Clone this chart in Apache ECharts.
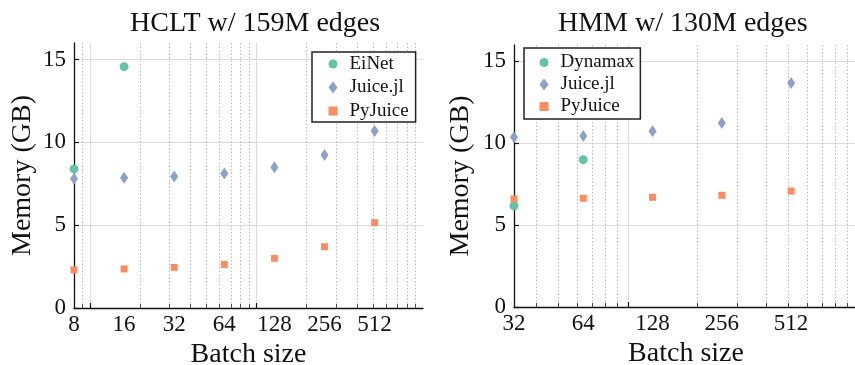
<!DOCTYPE html>
<html>
<head>
<meta charset="utf-8">
<script src="https://cdn.jsdelivr.net/npm/echarts@6/dist/echarts.min.js"></script>
<style>
html, body { margin: 0; padding: 0; background: #fff; }
#chartDom { width: 855px; height: 365px; }
</style>
</head>
<body>
<div id="chartDom"></div>
<script>
// HCLT w/ 159M edges
const hcltBatch = [8, 16, 32, 64, 128, 256, 512]
const hcltEinetBatch = [8, 16]
const hcltEinet = [8.4, 14.57]
const hcltJuicejl = [7.8, 7.86, 7.94, 8.12, 8.5, 9.24, 10.69]
const hcltPyjuice = [2.3, 2.36, 2.45, 2.63, 3.0, 3.7, 5.15]

// HMM w/ 130M edges
const hmmBatch = [32, 64, 128, 256, 512]
const hmmDynamaxBatch = [32, 64]
const hmmDynamax = [6.18, 9.0]
const hmmJuicejl = [10.37, 10.45, 10.74, 11.23, 13.68]
const hmmPyjuice = [6.6, 6.64, 6.7, 6.82, 7.08]

// tick labels / grid positions
const hcltTicks = [8, 16, 32, 64, 128, 256, 512]
const hmmTicks = [32, 64, 128, 256, 512]
const yTicks = [0, 5, 10, 15]
const majorGrid = [10, 100]
const hcltMinor = [9, 20, 30, 40, 50, 60, 70, 80, 90, 200, 300, 400, 500, 600, 700, 800, 900]
const hmmMinor = [40, 50, 60, 70, 80, 90, 200, 300, 400, 500, 600, 700, 800, 900]

const GREEN = '#66c2a5'
const BLUE = '#8da0cb'
const ORANGE = '#fc8d62'
const FONT = '"Liberation Serif", "DejaVu Serif", serif'
const SQUARE = 'path://M0,0L1,0L1,1L0,1Z'

const zip = (xs, ys) => ys.map((v, i) => [xs[i], v])

const chart = echarts.init(document.getElementById('chartDom'))

function mainX (gridIndex, min, labels) {
  return {
    type: 'log',
    logBase: 2,
    gridIndex: gridIndex,
    position: 'bottom',
    min: min,
    max: 1000,
    name: 'Batch size',
    nameLocation: 'middle',
    nameGap: 30,
    nameTextStyle: { fontFamily: FONT, fontSize: 28, color: '#111' },
    axisLine: { show: true, lineStyle: { color: '#111', width: 1.3 } },
    axisTick: { show: true, inside: true, length: 5, customValues: majorGrid, lineStyle: { color: '#111', width: 1.2 } },
    axisLabel: { customValues: labels, margin: 5, fontFamily: FONT, fontSize: 23, color: '#111' },
    splitLine: { show: true, lineStyle: { color: '#dcdcdc', width: 1.2 } }
  }
}

function minorX (gridIndex, min, values) {
  return {
    type: 'log',
    logBase: 10,
    gridIndex: gridIndex,
    position: 'bottom',
    min: min,
    max: 1000,
    axisLine: { show: false },
    axisLabel: { show: false },
    axisTick: { show: true, inside: true, length: 4, customValues: values, lineStyle: { color: '#444', width: 1 } },
    splitLine: { show: true, lineStyle: { color: '#bbb', width: 1, type: [1.5, 2] } }
  }
}

function yAx (gridIndex, gap) {
  return {
    type: 'value',
    gridIndex: gridIndex,
    min: 0,
    max: 16,
    name: 'Memory (GB)',
    nameLocation: 'middle',
    nameGap: gap,
    nameTextStyle: { fontFamily: FONT, fontSize: 28, color: '#111' },
    axisLine: { show: true, lineStyle: { color: '#111', width: 1.3 } },
    axisTick: { show: true, inside: true, length: 5, customValues: yTicks, lineStyle: { color: '#111', width: 1.2 } },
    axisLabel: { customValues: yTicks, margin: 8, fontFamily: FONT, fontSize: 23, color: '#111' },
    splitLine: { show: true, lineStyle: { color: '#dcdcdc', width: 1.2 } }
  }
}

function scatter (name, xIdx, yIdx, data, color, symbol, size) {
  return {
    name: name,
    type: 'scatter',
    xAxisIndex: xIdx,
    yAxisIndex: yIdx,
    data: data,
    symbol: symbol,
    symbolSize: size,
    clip: false,
    itemStyle: { color: color, opacity: 1 },
    emphasis: { disabled: true },
    z: 3
  }
}

function legend (names, left, top, padding, gap) {
  return {
    data: [
      { name: names[0], icon: 'circle' },
      { name: names[1], icon: 'diamond' },
      { name: names[2], icon: SQUARE }
    ],
    orient: 'vertical',
    left: left,
    top: top,
    padding: padding,
    itemGap: gap,
    itemWidth: 9,
    itemHeight: 12,
    backgroundColor: '#fff',
    borderColor: '#222',
    borderWidth: 1.5,
    borderRadius: 0,
    textStyle: { fontFamily: FONT, fontSize: 19, color: '#111', lineHeight: 20, padding: [0, 0, 0, 7] },
    z: 10
  }
}

const option = {
  animation: false,
  backgroundColor: '#fff',
  title: [
    { text: 'HCLT w/ 159M edges', left: 125, top: 5, textStyle: { fontFamily: FONT, fontSize: 28, fontWeight: 'normal', color: '#111' } },
    { text: 'HMM w/ 130M edges', left: 553, top: 5, textStyle: { fontFamily: FONT, fontSize: 28, fontWeight: 'normal', color: '#111' } }
  ],
  legend: [
    legend(['EiNet', 'Juice.jl', 'PyJuice'], 312, 52, [2, 7, 1, 16.5], 3.5),
    legend(['Dynamax', 'Juice.jl', 'PyJuice'], 524, 48, [4.5, 6, 2.5, 15.5], 2)
  ],
  grid: [
    { left: 74, top: 43, width: 349, height: 265, outerBoundsMode: 'none' },
    { left: 514, top: 45, width: 344, height: 262, outerBoundsMode: 'none' }
  ],
  xAxis: [
    mainX(0, 8, hcltTicks),
    minorX(0, 8, hcltMinor),
    mainX(1, 32, hmmTicks),
    minorX(1, 32, hmmMinor)
  ],
  yAxis: [yAx(0, 37), yAx(1, 39)],
  series: [
    scatter('EiNet', 0, 0, zip(hcltEinetBatch, hcltEinet), GREEN, 'circle', 9),
    scatter('Juice.jl', 0, 0, zip(hcltBatch, hcltJuicejl), BLUE, 'diamond', [8, 12]),
    scatter('PyJuice', 0, 0, zip(hcltBatch, hcltPyjuice), ORANGE, 'rect', 7),
    scatter('Dynamax', 2, 1, zip(hmmDynamaxBatch, hmmDynamax), GREEN, 'circle', 9),
    scatter('Juice.jl', 2, 1, zip(hmmBatch, hmmJuicejl), BLUE, 'diamond', [8, 12]),
    scatter('PyJuice', 2, 1, zip(hmmBatch, hmmPyjuice), ORANGE, 'rect', 7)
  ]
}

chart.setOption(option)
</script>
</body>
</html>
